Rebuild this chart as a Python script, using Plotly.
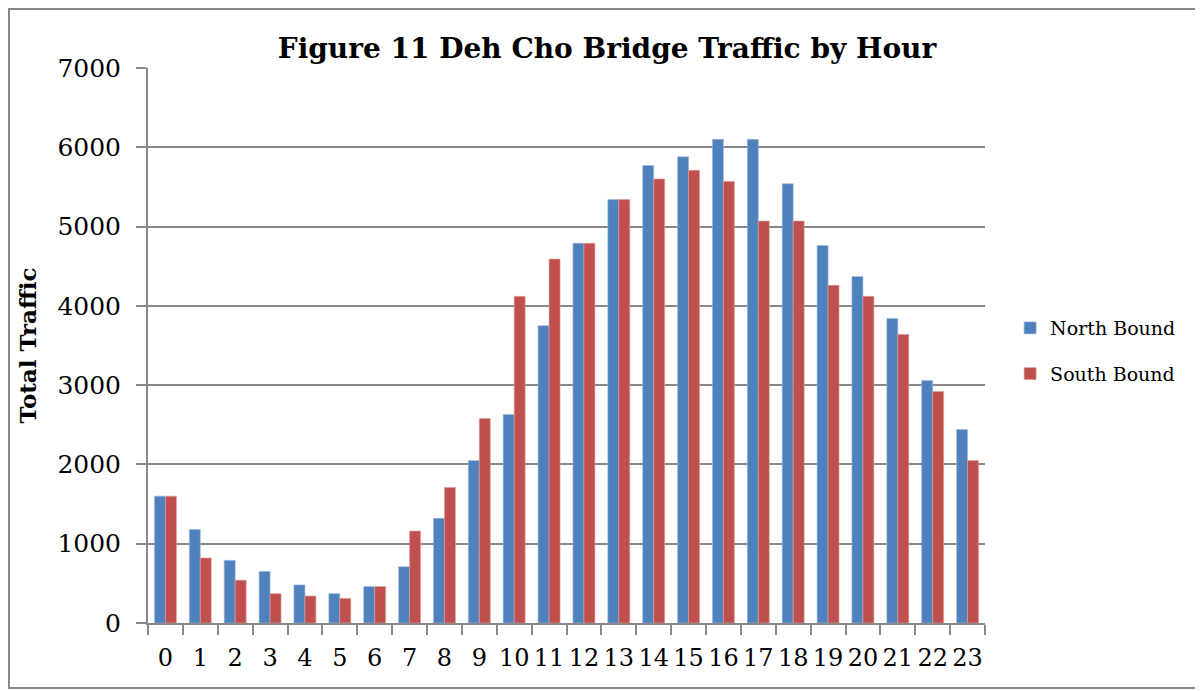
import plotly.graph_objects as go

hours = [str(h) for h in range(24)]
north_bound = [1600, 1180, 790, 650, 480, 370, 460, 710, 1320, 2050, 2630, 3750,
               4790, 5340, 5770, 5880, 6100, 6100, 5540, 4760, 4370, 3840, 3060, 2440]
south_bound = [1600, 820, 540, 370, 340, 310, 460, 1160, 1710, 2580, 4120, 4590,
               4790, 5340, 5600, 5710, 5570, 5070, 5070, 4260, 4120, 3640, 2920, 2050]
y_ticks = [0, 1000, 2000, 3000, 4000, 5000, 6000, 7000]

serif = "DejaVu Serif"
grey = "#888888"

fig = go.Figure()
fig.add_trace(go.Bar(x=hours, y=north_bound, name="North Bound", marker_color="#4F81BD",
                     marker_line=dict(color="#9DB9DE", width=0.6), legendgroup="n"))
fig.add_trace(go.Bar(x=hours, y=south_bound, name="South Bound", marker_color="#C0504D",
                     marker_line=dict(color="#E0A09E", width=0.6), legendgroup="s"))

# page body adds an 8px margin, so the figure is drawn 8px smaller and shifted
fig.update_layout(
    width=1195, height=683,
    margin=dict(l=140, r=218, t=60, b=68),
    paper_bgcolor="white", plot_bgcolor="white",
    barmode="group", bargap=0.37, bargroupgap=0,
    font=dict(family=serif, color="black"),
    title=dict(text="<b>Figure 11 Deh Cho Bridge Traffic by Hour</b>",
               x=(607 - 8) / 1195, xanchor="center", y=1 - 40 / 683, yanchor="middle",
               font=dict(size=28, family=serif)),
    legend=dict(x=1.03, y=0.49, xanchor="left", yanchor="middle",
                font=dict(size=19, family=serif), tracegroupgap=18, itemwidth=30),
    showlegend=True,
)
fig.update_xaxes(
    type="category", showline=True, linecolor=grey, linewidth=2,
    ticks="outside", tickson="boundaries", ticklen=10, tickcolor=grey, tickwidth=2,
    ticklabelstandoff=12, tickfont=dict(size=24), tickangle=0, showgrid=False,
)
fig.update_yaxes(
    range=[0, 7000], tickvals=y_ticks, showline=True, linecolor=grey, linewidth=2,
    ticks="outside", ticklen=10, tickcolor=grey, tickwidth=2, ticklabelstandoff=10,
    gridcolor=grey, gridwidth=2, tickfont=dict(size=25),
    title=dict(text="<b>Total Traffic</b>", font=dict(size=23), standoff=14),
)
# outer chart border
fig.add_shape(type="rect", xref="paper", yref="paper",
              x0=-139 / 837, x1=(1191 - 140) / 837,
              y0=(555 - 620) / 555, y1=(555 + 59) / 555,
              line=dict(color=grey, width=2), layer="below")

fig.write_html("out.html")
